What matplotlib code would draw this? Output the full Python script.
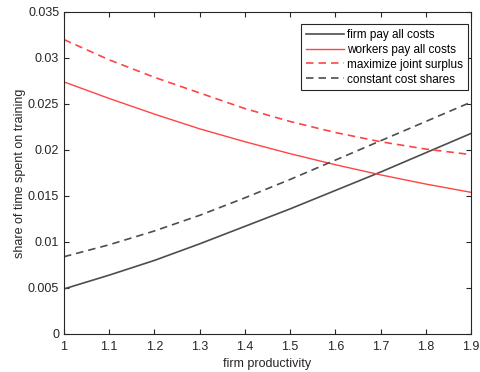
import matplotlib
matplotlib.use('Agg')
import matplotlib.pyplot as plt
from matplotlib.ticker import FuncFormatter

plt.rcParams['font.family'] = ['Liberation Sans', 'DejaVu Sans']

productivity = [1.0, 1.1, 1.2, 1.3, 1.4, 1.5, 1.6, 1.7, 1.8, 1.9]
firm_pay = [0.0049, 0.0064, 0.0080, 0.0098, 0.0117, 0.0136, 0.0156, 0.0176, 0.0197, 0.0218]
workers_pay = [0.0274, 0.0256, 0.0239, 0.0223, 0.0209, 0.0196, 0.0184, 0.0173, 0.0163, 0.0154]
joint_surplus = [0.0320, 0.0298, 0.0279, 0.0262, 0.0245, 0.0231, 0.0219, 0.0209, 0.0201, 0.0195]
constant_shares = [0.0084, 0.0097, 0.0112, 0.0129, 0.0148, 0.0168, 0.0189, 0.0210, 0.0231, 0.0252]

x_ticks = [1.0, 1.1, 1.2, 1.3, 1.4, 1.5, 1.6, 1.7, 1.8, 1.9]
y_ticks = [0, 0.005, 0.01, 0.015, 0.02, 0.025, 0.03, 0.035]

gray = '#4d4d4d'
red = '#ff4444'
axis_col = '#262626'

fig = plt.figure(figsize=(4.81, 3.72), dpi=100)
ax = fig.add_axes([64/481, 38/372, 407/481, 322/372])

ax.plot(productivity, firm_pay, color=gray, lw=1.2, label='firm pay all costs')
ax.plot(productivity, workers_pay, color=red, lw=1.0, label='workers pay all costs')
ax.plot(productivity, joint_surplus, color=red, lw=1.2, dashes=(4.5, 3), label='maximize joint surplus')
ax.plot(productivity, constant_shares, color=gray, lw=1.2, dashes=(4.5, 3), label='constant cost shares')

ax.set_xlim(1, 1.9)
ax.set_ylim(0, 0.035)
ax.set_xticks(x_ticks)
ax.set_yticks(y_ticks)
ax.xaxis.set_major_formatter(FuncFormatter(lambda v, p: '%g' % round(v, 3)))
ax.yaxis.set_major_formatter(FuncFormatter(lambda v, p: '%g' % round(v, 4)))

ax.tick_params(direction='in', length=3.5, width=0.8, colors=axis_col, labelsize=9,
               top=True, right=True)
ax.tick_params(axis='x', pad=5)
for s in ax.spines.values():
    s.set_color(axis_col)
    s.set_linewidth(0.8)

ax.set_xlabel('firm productivity', fontsize=9, color=axis_col, labelpad=4)
ax.set_ylabel('share of time spent on training', fontsize=9, color=axis_col, labelpad=1)

leg = ax.legend(loc='upper right', bbox_to_anchor=(468/481, 1 - 24/372),
                bbox_transform=fig.transFigure, fontsize=8.5, fancybox=False,
                framealpha=1, edgecolor=axis_col, handlelength=3.2,
                labelspacing=0.25, borderpad=0.4, handletextpad=0.3, borderaxespad=0)
leg.get_frame().set_linewidth(0.8)

plt.savefig('out.png', dpi=100)
